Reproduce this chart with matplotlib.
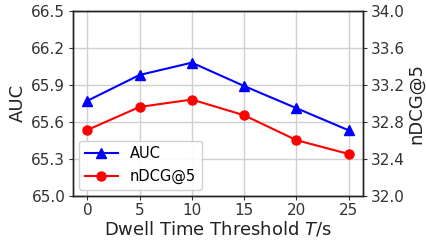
import matplotlib
matplotlib.use("Agg")
import matplotlib.pyplot as plt

thresholds = [0, 5, 10, 15, 20, 25]
auc = [65.77, 65.98, 66.08, 65.89, 65.71, 65.53]
ndcg = [32.71, 32.96, 33.04, 32.87, 32.60, 32.45]
auc_ticks = [65.0, 65.3, 65.6, 65.9, 66.2, 66.5]
ndcg_ticks = [32.0, 32.4, 32.8, 33.2, 33.6, 34.0]

plt.rcParams['font.family'] = ['DejaVu Sans']
fig = plt.figure(figsize=(4.26, 2.42), dpi=100)
ax = fig.add_axes([73/426, 46.5/242, 290/426, 184.5/242])
ax2 = ax.twinx()

l1, = ax.plot(thresholds, auc, color='blue', marker='^', markersize=6.5, linewidth=1.5, label='AUC')
l2, = ax2.plot(thresholds, ndcg, color='red', marker='o', markersize=6.5, linewidth=1.5, label='nDCG@5')

ax.set_ylim(65.0, 66.5)
ax.set_yticks(auc_ticks)
ax.set_yticklabels([f"{v:.1f}" for v in auc_ticks])
ax2.set_ylim(32.0, 34.0)
ax2.set_yticks(ndcg_ticks)
ax2.set_yticklabels([f"{v:.1f}" for v in ndcg_ticks])
ax.set_xlim(-1.37, 26.37)
ax.set_xticks(thresholds)

ax.grid(True, color='#d0d0d0', linewidth=1.0)
ax.set_axisbelow(True)
for a in (ax, ax2):
    for s in a.spines.values():
        s.set_color('#222222')
        s.set_linewidth(1.0)
    a.tick_params(labelsize=11, colors='#333333', length=3, width=0.8, pad=2.5)
    a.tick_params(labelcolor='#333333')

ax.set_ylabel('AUC', fontsize=13, color='#222222', labelpad=3)
ax2.set_ylabel('nDCG@5', fontsize=13, color='#222222', labelpad=2)
ax.set_xlabel('Dwell Time Threshold $T$/s', fontsize=13, color='#222222', labelpad=1)

leg = ax.legend([l1, l2], ['AUC', 'nDCG@5'], loc='lower left', fontsize=10.5,
                frameon=True, fancybox=True, framealpha=0.9, edgecolor='#cccccc',
                handlelength=2.3, bbox_to_anchor=(0.0, 0.0), borderaxespad=0.4)

fig.savefig('out.png', dpi=100)
